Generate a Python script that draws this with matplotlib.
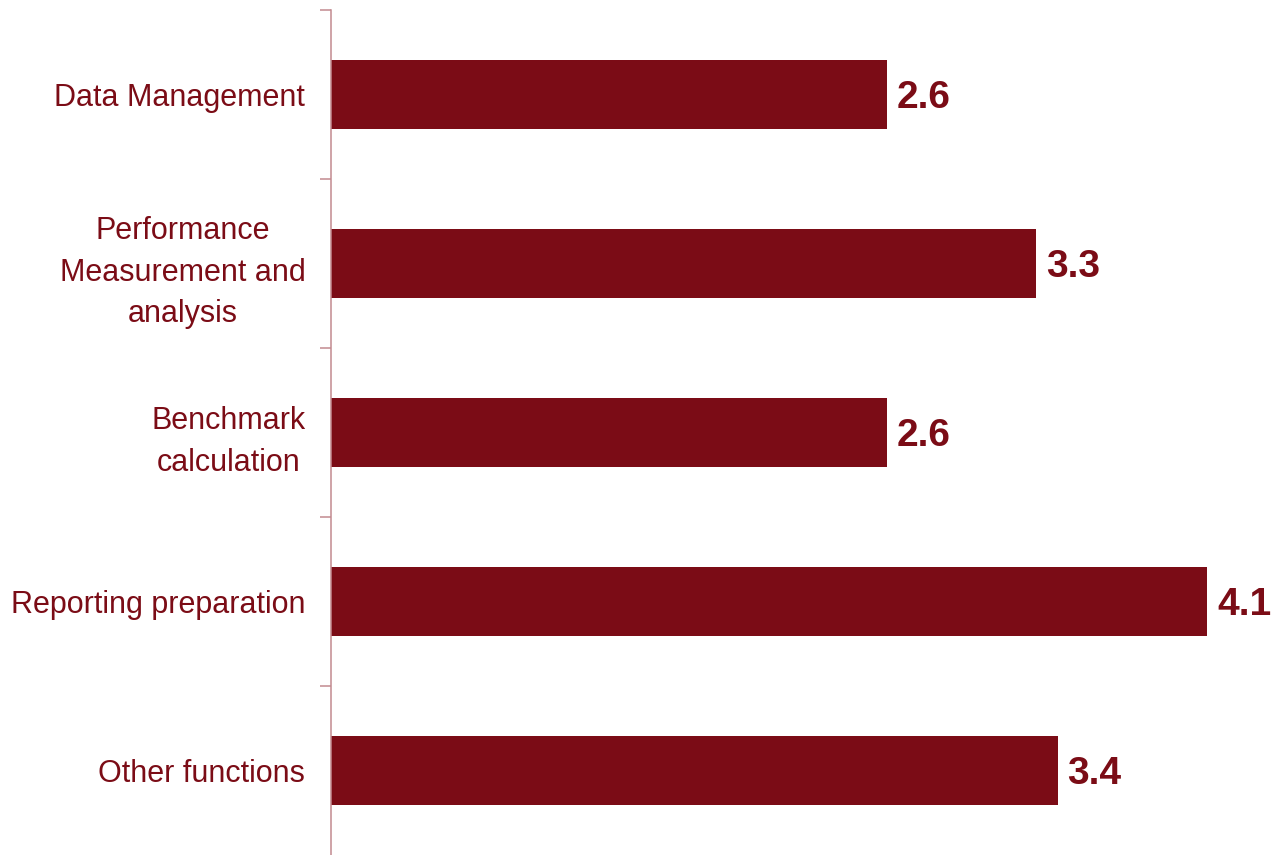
import matplotlib.pyplot as plt

categories = ['Data Management', 'Performance\nMeasurement and\nanalysis',
              'Benchmark\ncalculation', 'Reporting preparation', 'Other functions']
values = [2.6, 3.3, 2.6, 4.1, 3.4]

bar_color = '#7B0C16'
axis_color = '#C28A90'

plt.rcParams['font.family'] = ['Liberation Sans', 'DejaVu Sans']

fig = plt.figure(figsize=(12.74, 8.55), dpi=100)
ax = fig.add_axes([331 / 1274, 0, 1 - 331 / 1274, 1 - 10 / 855])

pos = list(range(len(categories)))
ax.barh(pos, values, height=0.41, color=bar_color)

for p, v in zip(pos, values):
    ax.text(v + 0.047, p + 0.02, f'{v:.1f}', va='center', ha='left',
            fontsize=28, fontweight='bold', color=bar_color)

ax.set_xlim(0, 943 / 213.7)
ax.set_ylim(len(categories) - 0.5, -0.5)

# ticks sit on the category boundaries, labels sit at the centres
ax.set_yticks([p - 0.5 for p in pos])
ax.set_yticklabels([])
ax.set_yticks(pos, minor=True)
ax.set_yticklabels(categories, minor=True, fontsize=22, color=bar_color,
                   ha='right', multialignment='center', linespacing=1.5)
ax.tick_params(axis='y', which='major', length=8, width=1.1, color=axis_color)
ax.tick_params(axis='y', which='minor', length=0, pad=18.5)
ax.set_xticks([])

for side in ['top', 'right', 'bottom']:
    ax.spines[side].set_visible(False)
ax.spines['left'].set_color(axis_color)
ax.spines['left'].set_linewidth(1.1)

fig.savefig('out.png', dpi=100)
